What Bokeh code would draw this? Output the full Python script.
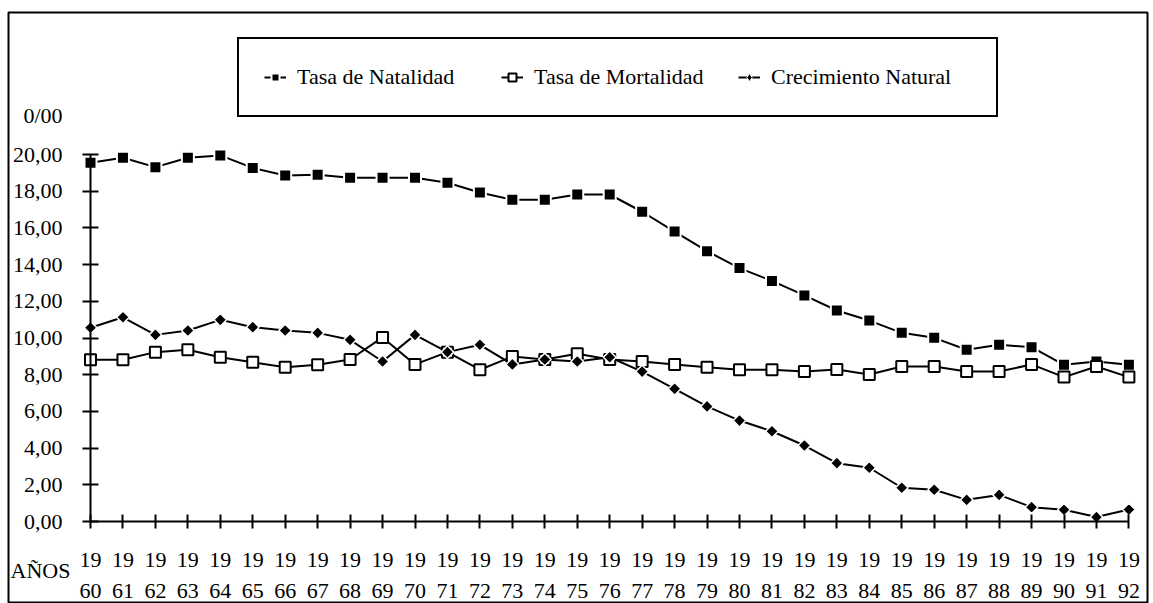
import math
from bokeh.plotting import figure
from bokeh.models import (Range1d, LinearAxis, FixedTicker, Legend, LegendItem,
                          Label, ColumnDataSource)
from bokeh.embed import file_html
from bokeh.resources import INLINE

# ---------------- data ----------------
years = list(range(1960, 1993))
natalidad = [19.55, 19.82, 19.31, 19.82, 19.95, 19.27, 18.86, 18.89, 18.73, 18.73,
             18.73, 18.46, 17.93, 17.53, 17.53, 17.82, 17.82, 16.88, 15.80, 14.73,
             13.81, 13.11, 12.32, 11.50, 10.95, 10.28, 10.01, 9.36, 9.63, 9.50,
             8.54, 8.72, 8.54]
mortalidad = [8.81, 8.81, 9.23, 9.36, 8.95, 8.68, 8.41, 8.54, 8.83, 10.03,
              8.56, 9.23, 8.27, 8.99, 8.83, 9.14, 8.83, 8.72, 8.56, 8.41,
              8.27, 8.27, 8.17, 8.28, 8.01, 8.45, 8.45, 8.17, 8.17, 8.56,
              7.87, 8.45, 7.87]
crecimiento = [10.56, 11.13, 10.17, 10.41, 10.99, 10.59, 10.41, 10.28, 9.90, 8.72,
               10.17, 9.23, 9.63, 8.56, 8.83, 8.72, 8.95, 8.17, 7.23, 6.27,
               5.50, 4.92, 4.14, 3.18, 2.93, 1.84, 1.73, 1.18, 1.45, 0.78,
               0.64, 0.24, 0.65]
series_names = ["Tasa de Natalidad", "Tasa de Mortalidad", "Crecimiento Natural"]
y_ticks = [0, 2, 4, 6, 8, 10, 12, 14, 16, 18, 20]
y_tick_labels = ["0,00", "2,00", "4,00", "6,00", "8,00", "10,00", "12,00",
                 "14,00", "16,00", "18,00", "20,00"]
x_top_labels = ["19"] * len(years)
x_bottom_labels = ["%02d" % (y % 100) for y in years]
unit_label = "0/00"
x_title = "AÑOS"

# ---------------- geometry ----------------
W, H = 1153, 603
MB_L, MB_R, MB_T, MB_B = 8, 6, 12, 0
frame_w = W - MB_L - MB_R
frame_h = H - MB_T - MB_B
PX_YEAR = 32.45
PX_UNIT = 18.35
axis_px_from_left = 82      # y axis position inside frame
axis_px_from_bottom = 82    # x axis position inside frame
x0 = years[0] - axis_px_from_left / PX_YEAR
x1 = x0 + frame_w / PX_YEAR
y0 = -axis_px_from_bottom / PX_UNIT
y1 = y0 + frame_h / PX_UNIT

FONT = "Liberation Serif, Times New Roman, DejaVu Serif, serif"
FS = "22px"

p = figure(width=W, height=H, output_backend="svg", toolbar_location=None,
           x_axis_type=None, y_axis_type=None,
           x_range=Range1d(x0, x1), y_range=Range1d(y0, y1),
           min_border_left=MB_L, min_border_right=MB_R,
           min_border_top=MB_T, min_border_bottom=MB_B)
p.outline_line_color = "black"
p.outline_line_width = 2
p.outline_line_alpha = 1
p.background_fill_color = "white"
p.border_fill_color = "white"

# ---------------- axes ----------------
yax = LinearAxis(fixed_location=years[0], bounds=(y_ticks[0], y_ticks[-1]),
                 ticker=FixedTicker(ticks=y_ticks),
                 major_label_overrides={t: l for t, l in zip(y_ticks, y_tick_labels)})
yax.axis_line_width = 2
yax.major_tick_line_width = 2
yax.major_tick_in = 8
yax.major_tick_out = 8
yax.minor_tick_line_color = None
yax.major_label_standoff = 20
yax.major_label_text_font = FONT
yax.major_label_text_font_size = FS
yax.major_label_text_color = "black"
p.add_layout(yax, "left")

xax1 = LinearAxis(fixed_location=0, bounds=(years[0], years[-1]),
                  ticker=FixedTicker(ticks=years),
                  major_label_overrides={t: l for t, l in zip(years, x_top_labels)})
xax1.axis_line_width = 2
xax1.major_tick_line_width = 2
xax1.major_tick_in = 7
xax1.major_tick_out = 7
xax1.minor_tick_line_color = None
xax1.major_label_standoff = 24
xax1.major_label_text_font = FONT
xax1.major_label_text_font_size = FS
xax1.major_label_text_color = "black"
p.add_layout(xax1, "below")

xax2 = LinearAxis(fixed_location=0, bounds=(years[0], years[-1]),
                  ticker=FixedTicker(ticks=years),
                  major_label_overrides={t: l for t, l in zip(years, x_bottom_labels)})
xax2.axis_line_color = None
xax2.major_tick_line_color = None
xax2.major_tick_in = 0
xax2.major_tick_out = 7
xax2.minor_tick_line_color = None
xax2.major_label_standoff = 55
xax2.major_label_text_font = FONT
xax2.major_label_text_font_size = FS
xax2.major_label_text_color = "black"
p.add_layout(xax2, "below")

# ---------------- series ----------------
src = ColumnDataSource(dict(x=years, nat=natalidad, mor=mortalidad, cre=crecimiento))

l1 = p.line("x", "nat", source=src, line_color="black", line_width=2)
l2 = p.line("x", "mor", source=src, line_color="black", line_width=2)
l3 = p.line("x", "cre", source=src, line_color="black", line_width=2)

s1 = p.scatter("x", "nat", source=src, marker="square", size=12,
               fill_color="black", line_color="white", line_width=2)
s2 = p.scatter("x", "mor", source=src, marker="square", size=11,
               fill_color="white", line_color="black", line_width=2)
s3 = p.scatter("x", "cre", source=src, marker="square", size=9, angle=math.pi / 4,
               fill_color="black", line_color="white", line_width=1.5)
# zero-size diamond on the same data: invisible in the plot, gives the legend key
s3_key = p.scatter("x", "cre", source=src, marker="diamond", size=0,
                   fill_color="black", line_color="white", line_width=1)

legend = Legend(items=[LegendItem(label=series_names[0], renderers=[l1, s1]),
                       LegendItem(label=series_names[1], renderers=[l2, s2]),
                       LegendItem(label=series_names[2], renderers=[l3, s3_key])],
                orientation="horizontal", location=(229, 486), margin=0,
                padding=25, spacing=4, glyph_width=22, label_standoff=11,
                label_width=200,
                label_text_font=FONT, label_text_font_size=FS,
                label_text_color="black",
                border_line_color="black", border_line_width=2, border_line_alpha=1,
                background_fill_color="white", background_fill_alpha=1)
p.add_layout(legend)

# ---------------- labels ----------------
p.add_layout(Label(x=years[0] - 67 / PX_YEAR, y=22.13, text=unit_label,
                   text_font=FONT, text_font_size=FS, text_color="black",
                   text_align="left", text_baseline="middle"))
p.add_layout(Label(x=years[0] - 80 / PX_YEAR, y=-2.67, text=x_title,
                   text_font=FONT, text_font_size=FS, text_color="black",
                   text_align="left", text_baseline="middle"))

open("out.html", "w").write(file_html(p, INLINE))
